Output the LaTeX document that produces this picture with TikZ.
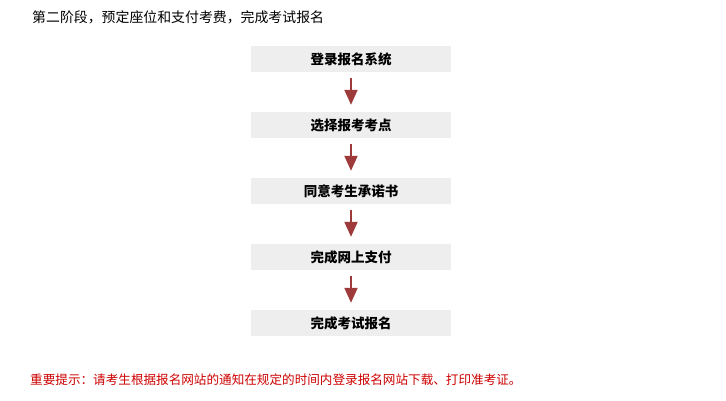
\documentclass[tikz,border=0pt]{standalone}
\usepackage{fontspec}
\newfontfamily\cjk{Noto Sans CJK SC}
\usetikzlibrary{arrows.meta}
\definecolor{boxfill}{HTML}{EEEEEE}
\definecolor{arrowred}{HTML}{9E3A3A}
\definecolor{notered}{HTML}{CC0000}
\begin{document}
\begin{tikzpicture}[x=1pt,y=-1pt,
  stepbox/.style={fill=boxfill, minimum width=200pt, minimum height=26pt, inner sep=0pt,
    font=\cjk\fontsize{13.5}{14}\selectfont\bfseries},
  flowarrow/.style={draw=arrowred, line width=2pt, -{Triangle[width=13pt,length=15pt]}, arrowred}]
\useasboundingbox (0,0) rectangle (726,401);
\node[anchor=west, inner sep=0pt, font=\cjk\fontsize{13.9}{14}\selectfont] (title) at (32,17) {第二阶段，预定座位和支付考费，完成考试报名};
\node[stepbox] (b1) at (351,59) {登录报名系统};
\node[stepbox] (b2) at (351,125) {选择报考考点};
\node[stepbox] (b3) at (351,191) {同意考生承诺书};
\node[stepbox] (b4) at (351,257) {完成网上支付};
\node[stepbox] (b5) at (351,323) {完成考试报名};
\foreach \a/\b in {b1/b2,b2/b3,b3/b4,b4/b5}{
  \draw[flowarrow] ([yshift=-6pt]\a.south) -- ([yshift=7pt]\b.north);
}
\node[anchor=west, inner sep=0pt, text=notered, font=\cjk\fontsize{12.6}{13}\selectfont] (note) at (30,380) {重要提示：请考生根据报名网站的通知在规定的时间内登录报名网站下载、打印准考证。};
\end{tikzpicture}
\end{document}
